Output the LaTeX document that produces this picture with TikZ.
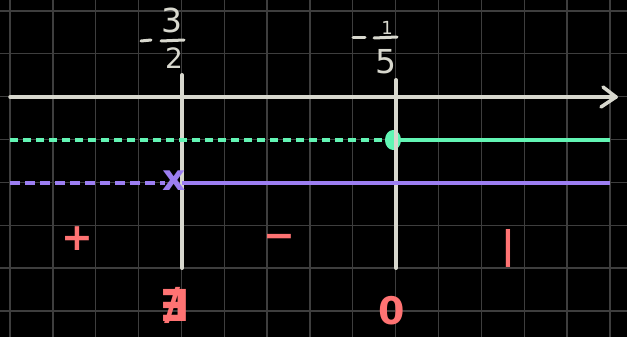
\documentclass[tikz,border=0pt]{standalone}
\usepackage{fontspec}
\setmainfont{DejaVu Sans}
\begin{document}
\begin{tikzpicture}[x=1pt,y=-1pt,
  gridline/.style={draw=gridc,line width=1.3pt},
  axisline/.style={draw=axisc,line width=3.5pt,line cap=round},
  wtext/.style={text=axisc,font=\fontsize{33}{33}\selectfont,inner sep=0pt},
  rtext/.style={text=redc,font=\bfseries\fontsize{38}{38}\selectfont,inner sep=0pt},
  gline/.style={draw=greenc,line width=3.5pt},
  pline/.style={draw=purplec,line width=3.5pt}]
\definecolor{gridc}{HTML}{3E3E3E}
\definecolor{axisc}{HTML}{D8D8CE}
\definecolor{greenc}{HTML}{62F5B4}
\definecolor{purplec}{HTML}{9C7EF2}
\definecolor{redc}{HTML}{FF7373}
\fill[black] (0,0) rectangle (627,337);
\useasboundingbox (0,0) rectangle (627,337);
% grid
\foreach \i in {0,...,14} {\draw[gridline] ({10+42.85*\i},0) -- ({10+42.85*\i},337);}
\foreach \j in {0,...,7} {\draw[gridline] (0,{11+42.85*\j}) -- (627,{11+42.85*\j});}
% axis
\coordinate (al) at (10,97);
\coordinate (ar) at (616,97);
\draw[axisline] (al) -- (ar);
\coordinate (at1) at (603,87);
\coordinate (at2) at (601,107);
\draw[axisline,line join=round] (at1) -- (ar) -- (at2);
% vertical lines
\coordinate (v1t) at (182,75);
\coordinate (v1b) at (182,268);
\coordinate (v2t) at (396,80);
\coordinate (v2b) at (396,268);
\draw[axisline,line width=4pt] (v1t) -- (v1b);
\draw[axisline,line width=4pt] (v2t) -- (v2b);
% green
\coordinate (g0) at (10,140);
\coordinate (g1) at (386,140);
\coordinate (g2) at (396,140);
\coordinate (g3) at (610,140);
\draw[gline,dash pattern=on 8pt off 5pt] (g0) -- (g1);
\draw[gline] (g2) -- (g3);
\fill[greenc] (393,140) ellipse (8 and 10);
\draw[axisline,line width=4pt] (396,130) -- (396,150);
% purple
\coordinate (p0) at (10,183);
\coordinate (p1) at (165,183);
\coordinate (p2) at (182,183);
\coordinate (p3) at (610,183);
\draw[pline,dash pattern=on 10pt off 5pt] (p0) -- (p1);
\draw[pline] (p2) -- (p3);
\node[text=purplec,font=\bfseries\fontsize{36}{36}\selectfont,inner sep=0pt] (px) at (174,181) {x};
% labels -3/2
\coordinate (m1a) at (141,41);
\coordinate (m1b) at (151,40);
\draw[axisline,line width=3pt] (m1a) -- (m1b);
\node[wtext] (n3) at (172,20) {3};
\coordinate (b1a) at (161,41);
\coordinate (b1b) at (184,40);
\draw[axisline,line width=3pt] (b1a) -- (b1b);
\node[wtext,font=\fontsize{28}{28}\selectfont] (d2) at (174,58) {2};
% labels -1/5
\coordinate (m2a) at (353,38);
\coordinate (m2b) at (365,38);
\draw[axisline,line width=3pt] (m2a) -- (m2b);
\node[wtext,font=\fontsize{18}{18}\selectfont] (n1) at (387,28) {1};
\coordinate (b2a) at (374,38);
\coordinate (b2b) at (397,37);
\draw[axisline,line width=3pt] (b2a) -- (b2b);
\node[wtext] (d5) at (386,62) {5};
% red signs
\node[rtext] (s1) at (77,239) {+};
\node[rtext] (s2) at (279,241) {−};
\node[rtext] (s3) at (508,248) {|};
\node[rtext,font=\bfseries\fontsize{44}{44}\selectfont] (s4) at (175,305) {∄};
\node[rtext] (s5) at (392,311) {0};
\end{tikzpicture}
\end{document}
